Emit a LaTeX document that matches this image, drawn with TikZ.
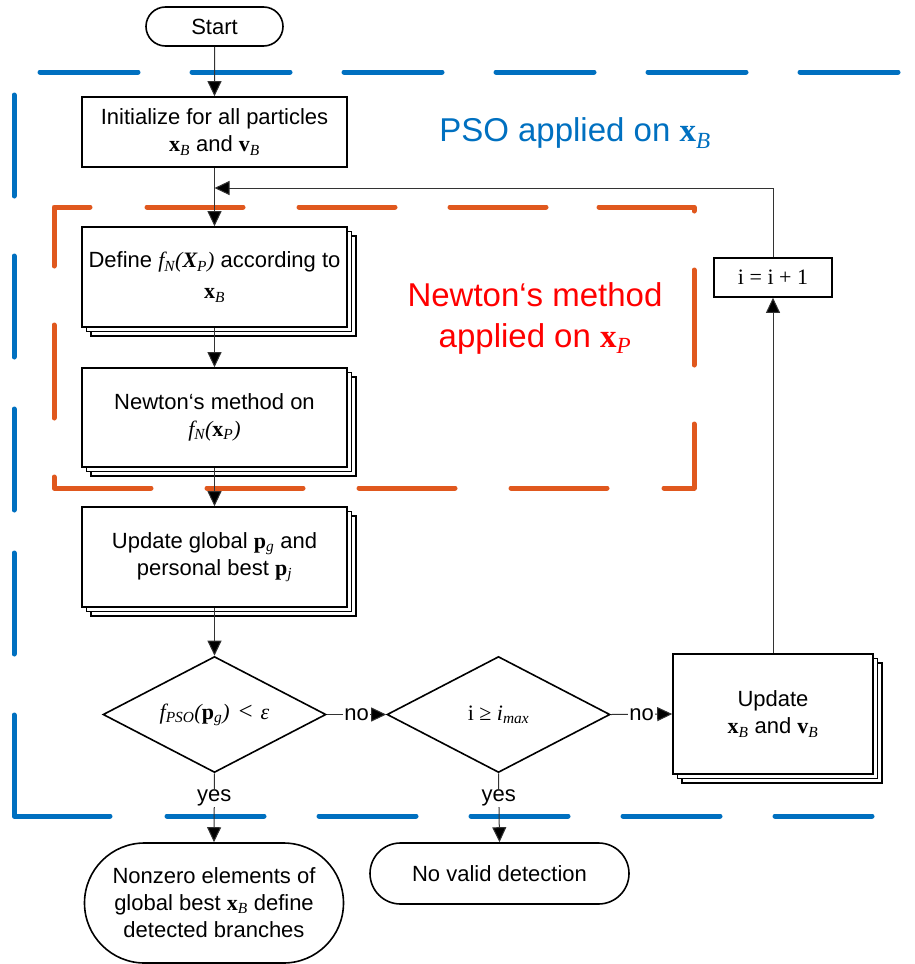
\documentclass[tikz,border=0pt]{standalone}
\usepackage{fontspec}
\setmainfont{Liberation Sans}
\newfontfamily\tms{Liberation Serif}
\usetikzlibrary{arrows.meta,shapes.geometric,shapes.misc,shadows}
\definecolor{psoblue}{RGB}{0,112,192}
\definecolor{nworange}{RGB}{224,88,30}
\definecolor{nwred}{RGB}{255,0,0}
\newcommand\bvec[2]{{\tms\bfseries #1}\textsubscript{\tms\itshape #2}}
\newcommand\subit[1]{\textsubscript{\tms\itshape #1}}
\newcommand\ser[1]{{\tms\itshape #1}}
\begin{document}
\begin{tikzpicture}[x=1pt,y=-1pt,
  every node/.style={font=\fontsize{22}{27}\selectfont, inner sep=2pt},
  box/.style={draw=black, line width=1.6pt, fill=white, align=center, minimum width=265pt},
  stackbox/.style={box,
    general shadow={shadow xshift=9pt,shadow yshift=-9pt,draw=black,fill=white,line width=1.4pt},
    general shadow={shadow xshift=4.5pt,shadow yshift=-4.5pt,draw=black,fill=white,line width=1.4pt}},
  term/.style={draw=black, line width=1.6pt, fill=white, rounded rectangle, align=center},
  decision/.style={draw=black, line width=1.6pt, fill=white, diamond, aspect=2, inner sep=0pt, minimum width=223pt, minimum height=116pt},
  conn/.style={line width=1pt, draw=black!80, -{Triangle[length=15pt,width=14pt,fill=black]}},
  lbl/.style={fill=white, inner sep=1pt},
  bluedash/.style={draw=psoblue, line width=5pt, line cap=round, line join=round},
  orangedash/.style={draw=nworange, line width=5pt, line cap=round, line join=round}
]
\useasboundingbox (0,0) rectangle (914,964);

% PSO frame (blue, dashed)
\foreach \a in {40,192,344,496,648,800} \draw[bluedash] (\a,72) -- ++(98,0);
\foreach \a in {95,256,409,553} \draw[bluedash] (14,\a) -- ++(0,101);
\draw[bluedash] (14,715) -- (14,816) -- (110,816);
\foreach \a in {167,319,471,623,775} \draw[bluedash] (\a,816) -- ++(97,0);

% Newton frame (orange, dashed)
\draw[orangedash] (54,266) -- (54,207) -- (90,207);
\foreach \a in {147,299,450} \draw[orangedash] (\a,207) -- ++(96,0);
\draw[orangedash] (599,207) -- (694,207) -- (694,211);
\draw[orangedash] (694,270) -- (694,365);
\draw[orangedash] (694,424) -- (694,488) -- (664,488);
\foreach \a in {207,359,511} \draw[orangedash] (\a,488) -- ++(96,0);
\draw[orangedash] (151,488) -- (54,488) -- (54,477);
\draw[orangedash] (54,418) -- (54,325);

% labels of regions
\node[text=psoblue, font=\fontsize{33}{38}\selectfont, inner sep=0pt] (psolbl) at (575,133) {PSO applied on \bvec{x}{B}};
\node[text=nwred, font=\fontsize{33}{41}\selectfont, align=center, inner sep=0pt] (nwlbl) at (535,318) {Newton‘s method\\applied on \bvec{x}{P}};

% nodes
\node[term, minimum width=141pt, minimum height=39pt] (start) at (214.5,26.5) {Start};
\node[box, minimum height=70pt] (init) at (214.5,132) {Initialize for all particles\\\bvec{x}{B} and \bvec{v}{B}};
\node[stackbox, minimum height=100pt] (define) at (214.5,277) {Define \ser{f}\subit{N}\ser{(}{\tms\bfseries\itshape X}\subit{P}\ser{)} according to\\[4pt]\bvec{x}{B}};
\node[stackbox, minimum height=99pt] (newton) at (214.5,417.5) {Newton‘s method on\\\ser{f}\subit{N}\ser{(}\bvec{x}{P}\ser{)}};
\node[stackbox, minimum height=100pt] (upg) at (214.5,557) {Update global \bvec{p}{g} and\\personal best \bvec{p}{j}};
\node[decision] (d1) at (214.5,714.5) {\ser{f}\subit{PSO}\ser{(}\bvec{p}{g}\ser{)}\hspace{9pt}{\tms\fontsize{25}{27}\selectfont <}\hspace{8pt}\ser{ε}};
\node[decision] (d2) at (498.5,714.5) {{\tms i ≥ }\ser{i}\subit{max}};
\node[stackbox, minimum width=200pt, minimum height=120pt] (upx) at (773,714) {Update\\\bvec{x}{B} and \bvec{v}{B}};
\node[box, minimum width=118pt, minimum height=39pt] (inc) at (773,277.5) {\tms i = i + 1};
\node[term, minimum width=263pt, minimum height=120pt] (end1) at (214,903) {Nonzero elements of\\global best \bvec{x}{B} define\\detected branches};
\node[term, minimum width=263pt, minimum height=61pt] (end2) at (499.5,873.5) {No valid detection};
\coordinate (fb) at (214.5,188);

% connectors
\draw[conn] (start) -- (init);
\draw[conn] (init) -- (define);
\draw[conn] (define.south) -- (newton.north);
\draw[conn] (newton.south) -- (upg.north);
\draw[conn] (upg.south) -- (d1.north);
\draw[conn] (d1.east) -- node[lbl] {no} (d2.west);
\draw[conn] (d2.east) -- node[lbl] {no} (upx.west);
\draw[conn] (upx.north) -- (inc.south);
\draw[conn] (inc.north) |- (fb);
\draw[conn] (d1.south) -- node[lbl, pos=0.36] {yes} (end1.north);
\draw[conn] (d2.south) -- node[lbl, pos=0.36] {yes} (end2.north);
\end{tikzpicture}
\end{document}
